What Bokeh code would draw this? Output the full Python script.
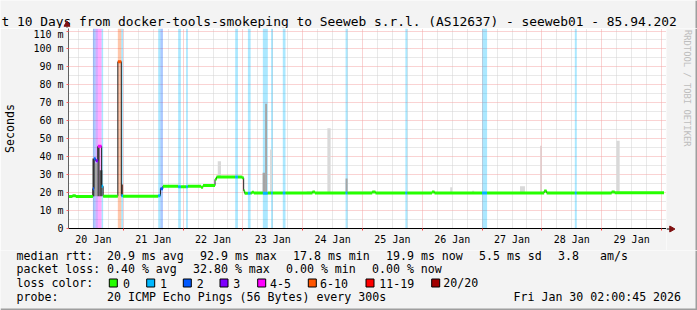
from bokeh.plotting import figure
from bokeh.layouts import column, row
from bokeh.models import Range1d, FixedTicker, Grid, ColumnDataSource
from bokeh.core.properties import value
from bokeh.embed import file_html
from bokeh.resources import INLINE

MONO = "DejaVu Sans Mono"

# ---------------- data (x = hours since 2026-01-20 00:00 local, y = ms) ----------------
# median RTT as step series: value holds from med_t[i] until med_t[i+1]
med_t = [2.0, 3.6, 4.9, 11.8, 12.2, 12.9, 13.8, 15.3, 15.9, 21.8, 23.2, 23.9,
         38.0, 38.9, 39.9, 46.0, 47.1, 49.2, 49.9, 55.2, 56.0, 60.8, 61.4, 68.9,
         70.0, 71.6, 72.3, 72.7, 74.0, 75.1, 75.6, 76.4, 80.0, 82.0, 83.3, 84.0,
         88.0, 89.1, 99.9, 100.9, 113.2, 114.0, 123.9, 125.2, 137.2, 138.0, 147.9,
         148.9, 168.0, 170.0, 192.9, 193.9, 205.2, 206.0, 220.0, 221.2]
med_v = [17.8, 18.3, 17.8, 22.2, 38.8, 37.8, 45.8, 23.5, 18.0, 92.9, 18.2, 18.0,
         18.3, 22.2, 23.6, 23.2, 23.2, 23.2, 23.6, 23.0, 23.9, 27.4, 28.7, 28.7,
         28.7, 28.2, 21.0, 19.6, 19.6, 19.8, 20.2, 19.8, 19.7, 19.8, 19.8, 19.8,
         19.8, 19.8, 20.4, 19.8, 19.8, 19.8, 20.4, 19.8, 19.8, 19.8, 20.4,
         19.8, 19.8, 19.8, 20.9, 19.8, 19.8, 19.8, 20.4, 19.9]
# loss class index per step (0 -> "0", 1 -> "1", 2 -> "2", 3 -> "3", 4 -> "4-5", 5 -> "6-10")
med_loss = [0, 0, 0, 2, 2, 3, 4, 1, 0, 5, 1, 0,
            1, 2, 0, 1, 0, 1, 0, 0, 0, 0, 0, 1,
            0, 0, 0, 0, 1, 0, 0, 0, 1, 0, 1, 0,
            1, 0, 0, 0, 1, 0, 0, 0, 1, 0, 0,
            0, 1, 0, 0, 0, 1, 0, 0, 0]
t_last = 241.0

# smoke (ping spread) columns
smoke_t0 = [11.6, 12.5, 13.6, 14.5, 23.2, 61.9, 79.9, 80.9, 82.9, 97.6, 105.9,
            113.2, 114.8, 155.2, 164.0, 183.2, 191.3, 221.9]
smoke_t1 = [12.5, 13.6, 14.5, 15.6, 23.9, 63.2, 80.9, 81.7, 83.6, 100.4, 107.2,
            114.0, 124.4, 156.0, 164.8, 185.2, 192.0, 223.2]
smoke_lo = [18.0, 18.0, 18.0, 18.0, 18.0, 28.7, 20.0, 20.0, 20.0, 20.0, 20.0,
            20.0, 20.0, 20.0, 20.0, 20.0, 20.0, 20.0]
smoke_hi = [39.0, 36.4, 45.5, 32.5, 24.5, 37.5, 31.0, 69.5, 44.0, 20.8, 55.8,
            27.8, 20.6, 23.0, 21.0, 23.5, 46.1, 48.9]
smoke_level = [2, 1, 2, 2, 3, 0, 1, 1, 0, 0, 0, 1, 0, 0, 0, 0, 4, 0]

day_ticks = [12, 36, 60, 84, 108, 132, 156, 180, 204, 228]
day_labels = ["20 Jan", "21 Jan", "22 Jan", "23 Jan", "24 Jan",
              "25 Jan", "26 Jan", "27 Jan", "28 Jan", "29 Jan"]
y_ticks = [0, 10, 20, 30, 40, 50, 60, 70, 80, 90, 100, 110]
y_labels = ["0", "10 m", "20 m", "30 m", "40 m", "50 m", "60 m", "70 m",
            "80 m", "90 m", "100 m", "110 m"]

loss_names = ["0", "1", "2", "3", "4-5", "6-10", "11-19", "20/20"]
loss_colors = ["#26ff00", "#00b8ff", "#0059ff", "#7e00ff", "#ff00ff",
               "#ff5500", "#ff0000", "#a10000"]

title_text = "t 10 Days from docker-tools-smokeping to Seeweb s.r.l. (AS12637) - seeweb01 - 85.94.202"
rtt_items = ["median rtt:", "20.9 ms avg", "92.9 ms max", "17.8 ms min",
             "19.9 ms now", "5.5 ms sd", "3.8", "am/s"]
loss_items = ["packet loss:", "0.40 % avg", "32.80 % max", "0.00 % min", "0.00 % now"]
loss_row_label = "loss color:"
probe_items = ["probe:", "20 ICMP Echo Pings (56 Bytes) every 300s"]
stamp_text = "Fri Jan 30 02:00:45 2026"
ylabel_text = "Seconds"
watermark_text = "RRDTOOL / TOBI OETIKER"

# ---------------- layout / style ----------------
W, H = 697, 310
FL, FR, FT, FB = 66, 666, 28, 228
ROW2 = 250                      # top of legend block
X0, X1 = 2.0, 242.0
Y0, Y1 = 0.0, 111.4
BG = "#f3f3f3"
SHADE = "#9e9e9e"
SMOKE_COLORS = ["#d9d9d9", "#a5a5a5", "#505050", "#6b463c", "#e2cccc"]
AR = "#7f1010"
GRID_MINOR = "#d2d2d2"
GRID_MAJOR = "#f4a6a6"
DY = -3.0                       # baseline correction for text glyphs


def deco_fig(w, h, x0, x1, y_top, y_bot):
    f = figure(width=w, height=h, x_range=Range1d(x0, x1), y_range=Range1d(y_bot, y_top),
               output_backend="svg", toolbar_location=None, tools="",
               x_axis_type=None, y_axis_type=None, min_border=0,
               background_fill_color=BG, border_fill_color=BG, outline_line_color=None)
    f.xgrid.visible = False
    f.ygrid.visible = False
    return f


def txt(f, x, y, s, size="11.6px", align="left", baseline="alphabetic",
        color="black", angle=0.0, dy=DY):
    f.text(x=[x], y=[y + dy], text=[s], text_font=value(MONO), text_font_size=value(size),
           text_align=align, text_baseline=baseline, text_color=color, angle=angle)


# ---- title strip (canvas y 0..28) ----
tf = deco_fig(W, FT, 0, W, 0, FT)
txt(tf, 1.0, 23.5, title_text, size="12.9px")
tf.segment(x0=[66.5], y0=[25.5], x1=[66.5], y1=[28.5], line_color="#606060", line_width=1)
tf.scatter(x=[66.5], y=[24.0], marker="triangle", size=6, fill_color=AR, line_color=AR)
tf.quad(left=[W - 2], right=[W], top=[0], bottom=[FT], fill_color=SHADE, line_color=None)

# ---- main chart (canvas x 0..666, y 28..250) ----
p = figure(width=FR, height=ROW2 - FT, x_range=Range1d(X0, X1), y_range=Range1d(Y0, Y1),
           output_backend="svg", toolbar_location=None, tools="",
           min_border_left=FL, min_border_right=0, min_border_top=0,
           min_border_bottom=ROW2 - FB,
           background_fill_color="white", border_fill_color=BG,
           outline_line_color=None)

p.xgrid.visible = False
p.ygrid.visible = False
six_h = [h for h in range(6, 242, 6) if h % 24 != 0]
midn = [h for h in range(24, 242, 24)]
y_minor = [v for v in range(5, 112, 10)]
y_major = [v for v in range(10, 112, 10)]
p.add_layout(Grid(dimension=0, ticker=FixedTicker(ticks=six_h),
                  grid_line_color=GRID_MINOR, grid_line_dash="1 1"))
p.add_layout(Grid(dimension=1, ticker=FixedTicker(ticks=y_minor),
                  grid_line_color=GRID_MINOR, grid_line_dash="1 1"))
p.add_layout(Grid(dimension=0, ticker=FixedTicker(ticks=midn),
                  grid_line_color=GRID_MAJOR, grid_line_dash="1 1"))
p.add_layout(Grid(dimension=1, ticker=FixedTicker(ticks=y_major),
                  grid_line_color=GRID_MAJOR, grid_line_dash="1 1"))

xa = p.xaxis[0]
xa.ticker = FixedTicker(ticks=day_ticks, minor_ticks=midn)
xa.major_label_overrides = dict(zip(day_ticks, day_labels))
xa.major_tick_out = 0
xa.major_tick_in = 0
xa.minor_tick_out = 2
xa.minor_tick_in = 0
xa.minor_tick_line_color = "#ff4040"
xa.axis_line_color = "black"
xa.major_label_standoff = 3
xa.major_label_text_font = MONO
xa.major_label_text_font_size = "10px"
xa.major_label_text_color = "black"

ya = p.yaxis[0]
ya.ticker = FixedTicker(ticks=y_ticks)
ya.major_label_overrides = dict(zip(y_ticks, y_labels))
ya.major_tick_out = 2
ya.major_tick_in = 0
ya.major_tick_line_color = "#ff6060"
ya.minor_tick_out = 0
ya.minor_tick_in = 0
ya.axis_line_color = "#606060"
ya.major_label_standoff = 3
ya.major_label_text_font = MONO
ya.major_label_text_font_size = "10px"
ya.major_label_text_color = "black"
ya.axis_label = ylabel_text
ya.axis_label_text_font = MONO
ya.axis_label_text_font_size = "11.6px"
ya.axis_label_text_font_style = "normal"
ya.axis_label_text_color = "black"
ya.axis_label_standoff = 13

# loss background bands
n = len(med_t)
t_next = med_t[1:] + [t_last]
band = dict(l=[], r=[], c=[])
for i in range(n):
    if med_loss[i] > 0:
        band["l"].append(med_t[i])
        band["r"].append(t_next[i])
        band["c"].append(loss_colors[med_loss[i]])
p.quad(left="l", right="r", bottom=Y0, top=Y1, fill_color="c", fill_alpha=0.33,
       line_color=None, source=ColumnDataSource(band))

# smoke
p.quad(left=smoke_t0, right=smoke_t1, bottom=smoke_lo, top=smoke_hi,
       fill_color=[SMOKE_COLORS[k] for k in smoke_level], line_color=None)

# median: dark step line, then loss-coloured thick segments
p.step(med_t + [t_last], med_v + [med_v[-1]], mode="after",
       line_color="#202020", line_width=1)
p.segment(x0=med_t, x1=t_next, y0=med_v, y1=med_v,
          line_color=[loss_colors[k] for k in med_loss], line_width=3,
          line_cap="butt")

# ---- right strip (canvas x 666..697, y 28..250), wrapped so its frame is its own ----
sf = deco_fig(W - FR, ROW2 - FT, FR, W, FT, ROW2)
txt(sf, 687.0, 29.5, watermark_text, size="8.8px", align="left",
    baseline="middle", color="#bdbdbd", angle=-1.5708, dy=0.0)
sf.segment(x0=[FR], y0=[FB + 0.5], x1=[670], y1=[FB + 0.5], line_color="black", line_width=1)
sf.scatter(x=[671.0], y=[FB + 0.5], marker="triangle", size=6, angle=-1.5708,
           fill_color=AR, line_color=AR)
sf.quad(left=[W - 2], right=[W], top=[FT], bottom=[ROW2], fill_color=SHADE, line_color=None)

# ---- legend block (canvas y 250..310) ----
lf = deco_fig(W, H - ROW2, 0, W, ROW2, H)
rtt_x = [16, 106.5, 199.5, 292.5, 385.5, 478.5, 557.5, 599.5]
for s, x in zip(rtt_items, rtt_x):
    txt(lf, x, 258, s)
loss_x = [16, 106.5, 192.5, 285.5, 371.5]
for s, x in zip(loss_items, loss_x):
    txt(lf, x, 271.7, s)
txt(lf, 16, 285.5, loss_row_label)
box_x = [108.3, 145.7, 182.3, 219.0, 256.7, 307.3, 365.0, 430.7]
lab_x = [122.5, 159.5, 196.2, 232.8, 269.5, 319.5, 378.8, 442.8]
lf.quad(left=[b + 0.5 for b in box_x], right=[b + 8.5 for b in box_x],
        top=[278.5] * len(box_x), bottom=[286.5] * len(box_x),
        fill_color=loss_colors, line_color="black", line_width=1)
for nm, lx in zip(loss_names, lab_x):
    txt(lf, lx, 285.5, nm)
txt(lf, 16, 299, probe_items[0])
txt(lf, 106.5, 299, probe_items[1])
txt(lf, 513, 299, stamp_text)
lf.quad(left=[0], right=[W], top=[H - 2], bottom=[H], fill_color=SHADE, line_color=None)
lf.quad(left=[W - 2], right=[W], top=[ROW2], bottom=[H], fill_color=SHADE, line_color=None)

layout = column(tf, row(p, column(sf)), lf)
open("out.html", "w").write(file_html(layout, INLINE))
